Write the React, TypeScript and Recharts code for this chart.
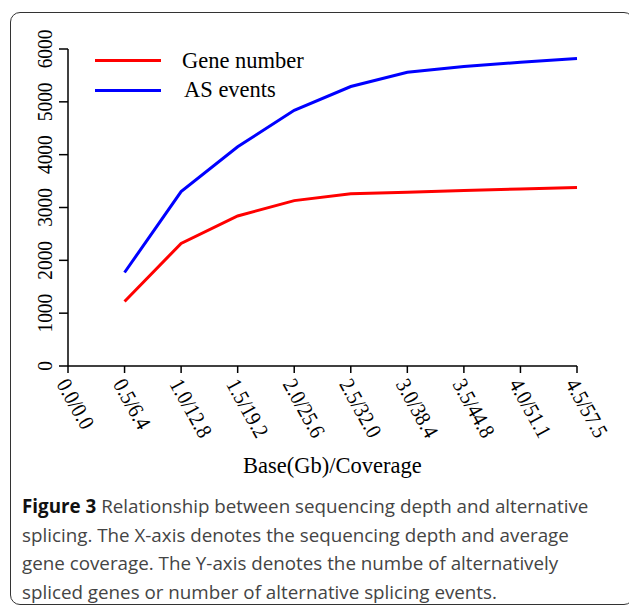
import React from "react"
import { LineChart, Line, XAxis, YAxis } from "recharts"

const depth = [0.5, 1.0, 1.5, 2.0, 2.5, 3.0, 3.5, 4.0, 4.5]
const geneNumber = [1220, 2320, 2840, 3130, 3260, 3290, 3320, 3350, 3380]
const asEvents = [1770, 3300, 4150, 4840, 5290, 5560, 5670, 5750, 5820]
const xTicks = [0, 0.5, 1.0, 1.5, 2.0, 2.5, 3.0, 3.5, 4.0, 4.5]
const xTickLabels = ["0.0/0.0", "0.5/6.4", "1.0/12.8", "1.5/19.2", "2.0/25.6", "2.5/32.0", "3.0/38.4", "3.5/44.8", "4.0/51.1", "4.5/57.5"]
const yTicks = [0, 1000, 2000, 3000, 4000, 5000, 6000]
const seriesLegend = [
  { label: "Gene number", color: "#ff0000" },
  { label: "AS events", color: "#0000ff" },
]

const serif = "'Liberation Serif', 'Times New Roman', serif"

const data = depth.map((x, i) => ({ x, gene: geneNumber[i], as: asEvents[i] }))

// tick labels in the figure are slightly squeezed along the text direction
const XTick = ({ x, y, payload }: any) => {
  const i = xTicks.indexOf(payload.value)
  return (
    <text
      transform={`translate(${x - 12}, ${y + 9}) rotate(61) scale(0.88, 1)`}
      textAnchor="start"
      fontFamily={serif}
      fontSize={22}
      fill="#000"
    >
      {xTickLabels[i] ?? payload.value}
    </text>
  )
}

const YTick = ({ y, payload }: any) => (
  <text
    transform={`translate(52, ${y}) rotate(-90) scale(0.88, 1)`}
    textAnchor="middle"
    fontFamily={serif}
    fontSize={22}
    fill="#000"
  >
    {payload.value}
  </text>
)

export default function App() {
  return (
    <div style={{ position: "fixed", left: 0, top: 0, width: 629, height: 605, overflow: "hidden", background: "#fff" }}>
      <div
        style={{
          position: "absolute",
          left: 10,
          top: 12,
          width: 622,
          height: 591,
          border: "1.5px solid #333",
          borderRadius: 10,
        }}
      />
      <div style={{ position: "absolute", left: 0, top: 0 }}>
        <LineChart width={629} height={480} data={data} margin={{ top: 49, right: 52, left: 0, bottom: 0 }}>
          <XAxis
            type="number"
            dataKey="x"
            domain={[0, 4.5]}
            ticks={xTicks}
            interval={0}
            height={114}
            tickSize={7}
            tickMargin={2}
            tick={<XTick />}
            axisLine={{ stroke: "#000", strokeWidth: 1.5 }}
            tickLine={{ stroke: "#000", strokeWidth: 1.5 }}
          />
          <YAxis
            domain={[0, 6000]}
            ticks={yTicks}
            width={68}
            tickSize={9}
            tick={<YTick />}
            axisLine={{ stroke: "#000", strokeWidth: 1.5 }}
            tickLine={{ stroke: "#000", strokeWidth: 1.5 }}
          />
          <Line dataKey="gene" name="Gene number" stroke="#ff0000" strokeWidth={3} dot={false} isAnimationActive={false} />
          <Line dataKey="as" name="AS events" stroke="#0000ff" strokeWidth={3} dot={false} isAnimationActive={false} />
        </LineChart>
      </div>
      {/* legend */}
      <div style={{ position: "absolute", left: 95, top: 46, fontFamily: serif, fontSize: 22.5, color: "#000" }}>
        {seriesLegend.map((it, i) => (
          <div key={it.label} style={{ display: "flex", alignItems: "center", height: 29.6 }}>
            <span style={{ display: "inline-block", width: 66, height: 3, background: it.color }} />
            <span style={{ marginLeft: 21 + i * 2, lineHeight: "22px" }}>{it.label}</span>
          </div>
        ))}
      </div>
      <div
        style={{
          position: "absolute",
          left: 243,
          top: 453,
          fontFamily: serif,
          fontSize: 22.5,
          color: "#000",
          whiteSpace: "nowrap",
        }}
      >
        Base(Gb)/Coverage
      </div>
      <div
        style={{
          position: "absolute",
          left: 22,
          top: 492,
          fontFamily: "'Open Sans', sans-serif",
          fontSize: 18.8,
          lineHeight: "28.5px",
          color: "#444",
          whiteSpace: "nowrap",
        }}
      >
        <b style={{ color: "#111" }}>Figure 3</b> Relationship between sequencing depth and alternative
        <br />
        splicing. The X-axis denotes the sequencing depth and average
        <br />
        gene coverage. The Y-axis denotes the numbe of alternatively
        <br />
        spliced genes or number of alternative splicing events.
      </div>
    </div>
  )
}
